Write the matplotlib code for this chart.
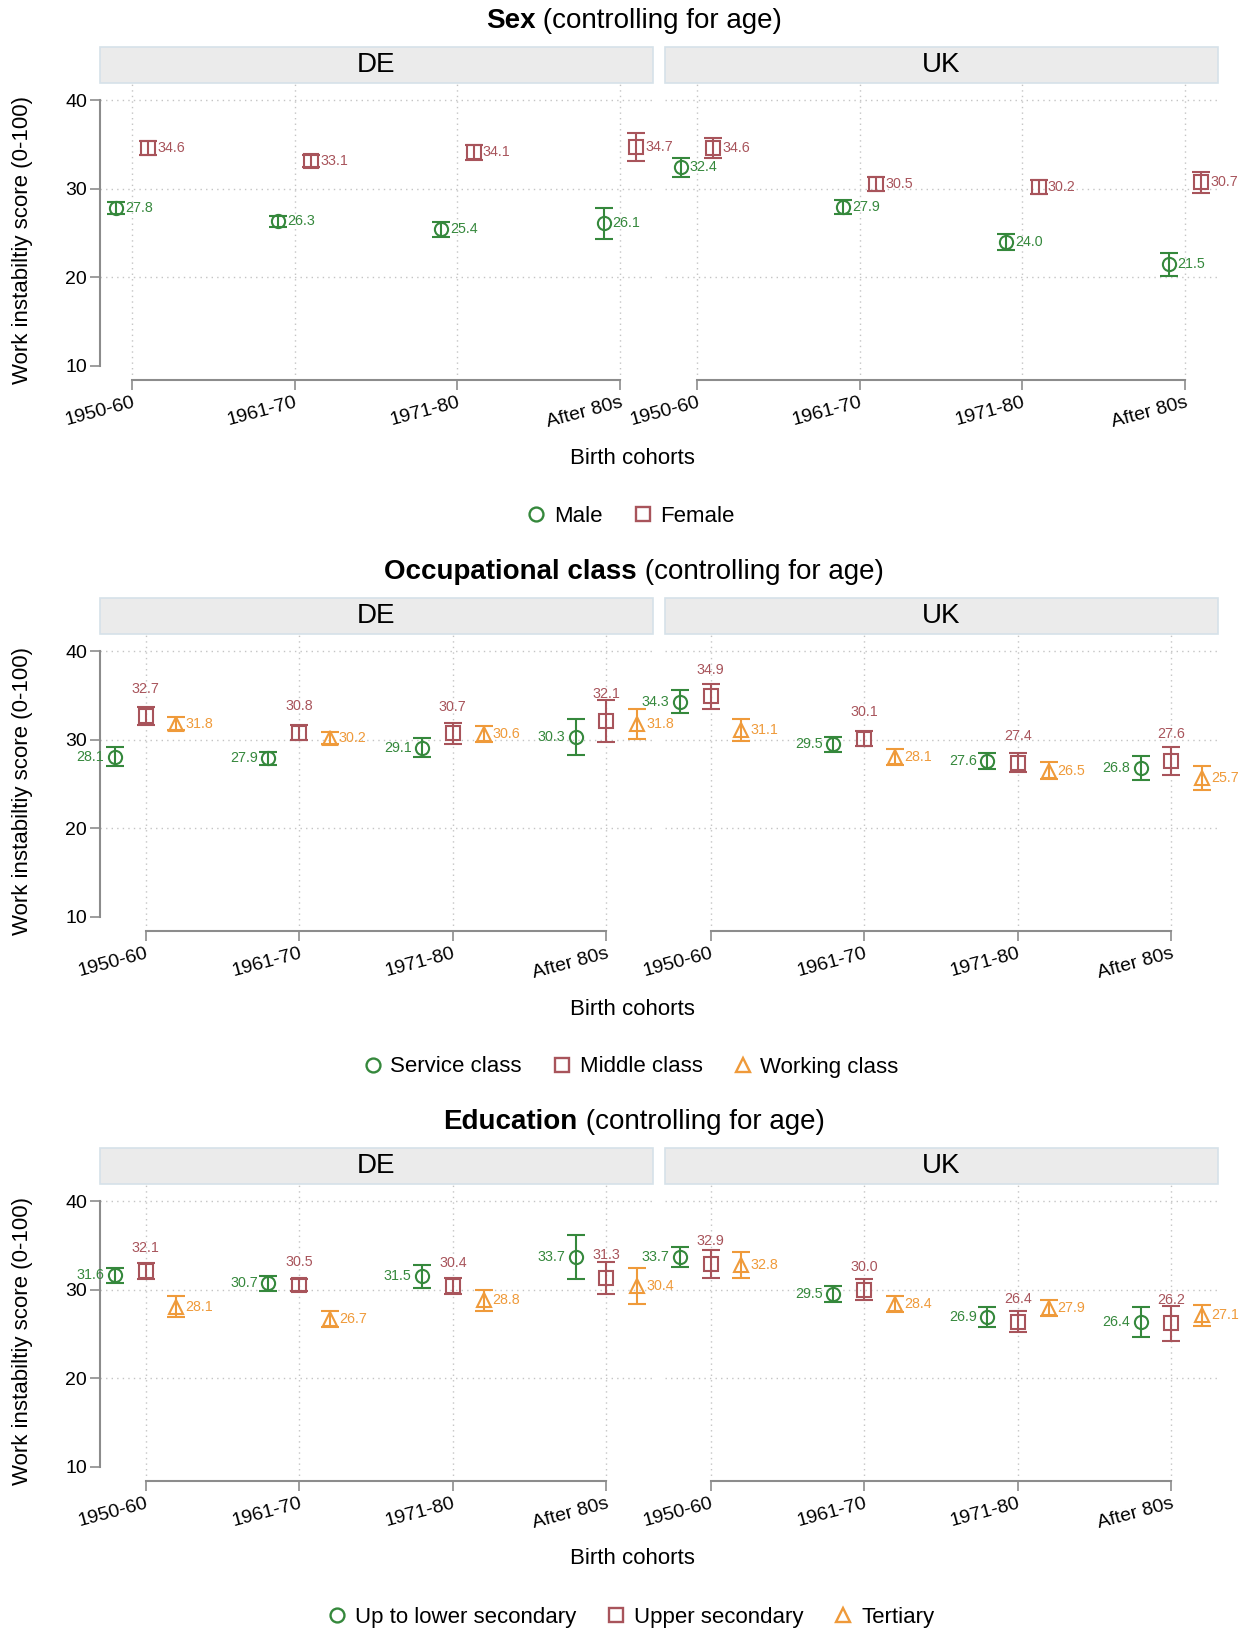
import matplotlib
matplotlib.use('Agg')
import matplotlib.pyplot as plt
from matplotlib.lines import Line2D
from matplotlib.patches import Rectangle

plt.rcParams['font.family'] = ['Liberation Sans', 'DejaVu Sans']

# ── 데이터 ──
cohorts = ['1950-60', '1961-70', '1971-80', 'After 80s']

sex_labels = ['Male', 'Female']
sex_de_male = [27.8, 26.3, 25.4, 26.1]
sex_de_male_ci = [0.65, 0.6, 0.8, 1.75]
sex_de_female = [34.6, 33.1, 34.1, 34.7]
sex_de_female_ci = [0.8, 0.7, 0.85, 1.6]
sex_uk_male = [32.4, 27.9, 24.0, 21.5]
sex_uk_male_ci = [1.1, 0.8, 0.9, 1.3]
sex_uk_female = [34.6, 30.5, 30.2, 30.7]
sex_uk_female_ci = [1.15, 0.8, 0.8, 1.15]

occ_labels = ['Service class', 'Middle class', 'Working class']
occ_de_service = [28.1, 27.9, 29.1, 30.3]
occ_de_service_ci = [1.05, 0.75, 1.07, 2.0]
occ_de_middle = [32.7, 30.8, 30.7, 32.1]
occ_de_middle_ci = [1.0, 0.8, 1.15, 2.4]
occ_de_working = [31.8, 30.2, 30.6, 31.8]
occ_de_working_ci = [0.75, 0.65, 0.9, 1.7]
occ_uk_service = [34.3, 29.5, 27.6, 26.8]
occ_uk_service_ci = [1.3, 0.85, 0.9, 1.4]
occ_uk_middle = [34.9, 30.1, 27.4, 27.6]
occ_uk_middle_ci = [1.4, 0.85, 1.05, 1.55]
occ_uk_working = [31.1, 28.1, 26.5, 25.7]
occ_uk_working_ci = [1.2, 0.9, 0.95, 1.37]

edu_labels = ['Up to lower secondary', 'Upper secondary', 'Tertiary']
edu_de_low = [31.6, 30.7, 31.5, 33.7]
edu_de_low_ci = [0.87, 0.8, 1.3, 2.46]
edu_de_upper = [32.1, 30.5, 30.4, 31.3]
edu_de_upper_ci = [0.88, 0.67, 0.92, 1.8]
edu_de_tert = [28.1, 26.7, 28.8, 30.4]
edu_de_tert_ci = [1.17, 0.92, 1.2, 2.0]
edu_uk_low = [33.7, 29.5, 26.9, 26.4]
edu_uk_low_ci = [1.17, 0.88, 1.13, 1.7]
edu_uk_upper = [32.9, 30.0, 26.4, 26.2]
edu_uk_upper_ci = [1.58, 1.18, 1.15, 1.95]
edu_uk_tert = [32.8, 28.4, 27.9, 27.1]
edu_uk_tert_ci = [1.5, 0.88, 0.88, 1.2]

# ── 스타일 ──
W, H = 1247, 1634
COLORS = ['#35883c', '#a8545b', '#ef9a3a']
MARKERS = ['o', 's', '^']
AXCOL = '#8c8c8c'
GRIDCOL = '#c4c4c4'

fig = plt.figure(figsize=(W / 100, H / 100), dpi=100)


def fx(px):
    return px / W


def fy(py):
    return 1 - py / H


def title(y, bold, rest, cx=634):
    r = fig.canvas.get_renderer()
    t1 = fig.text(0, fy(y), bold, fontsize=20, weight='bold', va='center', ha='left')
    t2 = fig.text(0, fy(y), rest, fontsize=20, va='center', ha='left')
    w1 = t1.get_window_extent(r).width
    w2 = t2.get_window_extent(r).width
    x0 = cx - (w1 + w2) / 2
    t1.set_x(fx(x0))
    t2.set_x(fx(x0 + w1))


def block(y0, bold, labels, de_series, uk_series, offsets, label_pos, above_gap=3.0):
    title(y0 + 21, bold, ' (controlling for age)')
    xpad = max(offsets) + 0.1
    for k, (name, left, series) in enumerate([('DE', 99.5, de_series), ('UK', 664.5, uk_series)]):
        width = 553
        ax = fig.add_axes([fx(left), fy(y0 + 380), fx(width), (380 - 83) / H])
        ax.patch.set_visible(False)
        ax.set_xlim(1 - xpad, 4 + xpad)
        ax.set_ylim(8.42, 41.92)
        for s in ['top', 'right']:
            ax.spines[s].set_visible(False)
        ax.spines['bottom'].set_bounds(1, 4)
        ax.spines['bottom'].set_color(AXCOL)
        ax.spines['bottom'].set_linewidth(1.5)
        ax.set_xticks([1, 2, 3, 4])
        ax.set_xticklabels(cohorts, rotation=15, ha='right', rotation_mode='anchor', fontsize=14)
        ax.tick_params(axis='x', length=7, width=1.2, color=AXCOL, pad=3)
        ax.set_yticks([10, 20, 30, 40])
        if k == 0:
            ax.spines['left'].set_bounds(10, 40)
            ax.spines['left'].set_color(AXCOL)
            ax.spines['left'].set_linewidth(1.5)
            ax.tick_params(axis='y', length=7, width=1.2, color=AXCOL, labelsize=14, pad=2)
        else:
            ax.spines['left'].set_visible(False)
            ax.tick_params(axis='y', length=0, labelleft=False)
        for yy in [20, 30, 40]:
            ax.axhline(yy, color=GRIDCOL, lw=1, ls=(0, (1, 3)), zorder=0)
        for xx in [1, 2, 3, 4]:
            ax.axvline(xx, color=GRIDCOL, lw=1, ls=(0, (1, 3)), zorder=0)

        for i, (vals, ci) in enumerate(series):
            xs = [c + 1 + offsets[i] for c in range(len(cohorts))]
            ax.errorbar(xs, vals, yerr=ci, fmt=MARKERS[i], color=COLORS[i], mfc='none',
                        mec=COLORS[i], ms=9.5, mew=1.5, elinewidth=1.5, capsize=6.5,
                        capthick=1.5, clip_on=False, zorder=3)
            for xv, v in zip(xs, vals):
                txt = f'{v:.1f}'
                pos = label_pos[i]
                if pos == 'r':
                    ax.annotate(txt, (xv, v), xytext=(6.5, 0), textcoords='offset points',
                                ha='left', va='center', fontsize=10.3, color=COLORS[i],
                                annotation_clip=False)
                elif pos == 'l':
                    ax.annotate(txt, (xv, v), xytext=(-7.5, 0), textcoords='offset points',
                                ha='right', va='center', fontsize=10.3, color=COLORS[i],
                                annotation_clip=False)
                else:
                    ax.text(xv, v + above_gap, txt, ha='center', va='center',
                            fontsize=10.3, color=COLORS[i], clip_on=False)

        # strip
        fig.add_artist(Rectangle((fx(left), fy(y0 + 83)), fx(width), 36 / H,
                                 transform=fig.transFigure, fc='#ebebeb', ec='#d6e1e9', lw=1.2))
        fig.text(fx(left + width / 2), fy(y0 + 65), name, ha='center', va='center', fontsize=20)

    fig.text(fx(23), fy(y0 + 240), 'Work instabiltiy score (0-100)', rotation=90,
             ha='center', va='center', fontsize=16)
    fig.text(fx(632), fy(y0 + 458), 'Birth cohorts', ha='center', va='center', fontsize=16)

    handles = [Line2D([], [], ls='none', marker=MARKERS[i], mfc='none', mec=COLORS[i],
                      ms=10, mew=1.7) for i in range(len(labels))]
    fig.legend(handles, labels, loc='center', bbox_to_anchor=(fx(630), fy(y0 + 516)),
               ncol=len(labels), frameon=False, fontsize=16, handletextpad=0.3,
               columnspacing=1.3, handlelength=1.0)


block(0, 'Sex', sex_labels,
      [(sex_de_male, sex_de_male_ci), (sex_de_female, sex_de_female_ci)],
      [(sex_uk_male, sex_uk_male_ci), (sex_uk_female, sex_uk_female_ci)],
      [-0.1, 0.1], ['r', 'r'])

block(551, 'Occupational class', occ_labels,
      [(occ_de_service, occ_de_service_ci), (occ_de_middle, occ_de_middle_ci),
       (occ_de_working, occ_de_working_ci)],
      [(occ_uk_service, occ_uk_service_ci), (occ_uk_middle, occ_uk_middle_ci),
       (occ_uk_working, occ_uk_working_ci)],
      [-0.2, 0.0, 0.2], ['l', 't', 'r'], above_gap=3.0)

block(1101, 'Education', edu_labels,
      [(edu_de_low, edu_de_low_ci), (edu_de_upper, edu_de_upper_ci),
       (edu_de_tert, edu_de_tert_ci)],
      [(edu_uk_low, edu_uk_low_ci), (edu_uk_upper, edu_uk_upper_ci),
       (edu_uk_tert, edu_uk_tert_ci)],
      [-0.2, 0.0, 0.2], ['l', 't', 'r'], above_gap=2.6)

fig.savefig('out.png', dpi=100)
